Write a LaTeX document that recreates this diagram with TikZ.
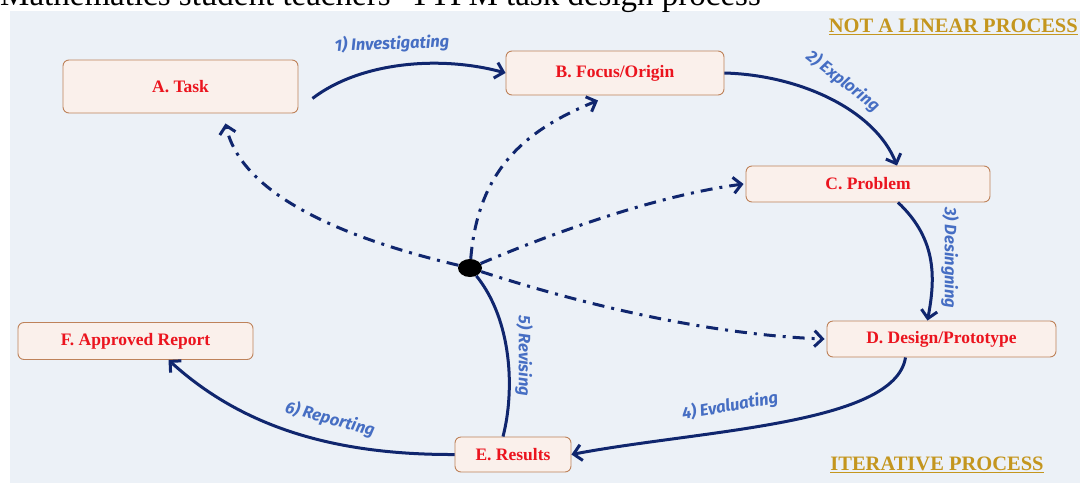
\documentclass[tikz,border=0pt]{standalone}
\usepackage{fontspec}
\setmainfont{Liberation Serif}
\newfontfamily\labfont{Fira Sans}
\usetikzlibrary{arrows.meta,shapes.geometric,calc}
\definecolor{navy}{RGB}{16,38,110}
\definecolor{boxred}{RGB}{235,20,30}
\definecolor{lblue}{RGB}{70,110,195}
\definecolor{gold}{RGB}{196,150,30}
\definecolor{bg}{RGB}{236,241,247}
\definecolor{boxfill}{RGB}{250,240,235}
\definecolor{boxline}{RGB}{190,130,90}
\tikzset{
  box/.style={draw=boxline, line width=0.9pt, fill=boxfill, rounded corners=6pt,
    font=\bfseries\fontsize{17.5}{20}\selectfont, text=boxred, inner sep=0pt},
  flow/.style={draw=navy, line width=3pt, -{Straight Barb[length=8pt,width=16pt]}},
  plain/.style={draw=navy, line width=3pt},
  dashflow/.style={draw=navy, line width=3pt, dash pattern=on 12pt off 7pt on 3pt off 7pt,
    -{Straight Barb[length=8pt,width=16pt]}},
  lab/.style={font=\labfont\bfseries\itshape\fontsize{16.5}{18}\selectfont, text=lblue, inner sep=1pt},
  goldlab/.style={font=\bfseries\fontsize{20.5}{23}\selectfont, text=gold, inner sep=0pt}
}
\begin{document}
\begin{tikzpicture}[x=1pt,y=-1pt]
\clip (0,0) rectangle (1080,483);
\fill[white] (0,0) rectangle (1080,483);
\fill[bg] (10,11) rectangle (1080,483);
\node[anchor=base west, font=\fontsize{33}{33}\selectfont, inner sep=0pt] (title) at (0,5)
  {Mathematics student teachers’ TTPM task design process};
\node[goldlab, anchor=east] (nl) at (1078,27) {\underline{NOT A LINEAR PROCESS}};
\node[goldlab] (it) at (937,465) {\underline{ITERATIVE PROCESS}};

\node[box, minimum width=235, minimum height=53] (A) at (180.5,86.5) {A. Task};
\node[box, minimum width=218, minimum height=44] (B) at (615,73) {B. Focus/Origin};
\node[box, minimum width=244, minimum height=36] (C) at (868,184) {C. Problem};
\node[box, minimum width=229, minimum height=36] (D) at (941.5,339) {D. Design/Prototype};
\node[box, minimum width=116, minimum height=35] (E) at (513,454.5) {E. Results};
\node[box, minimum width=235, minimum height=37] (F) at (135.5,341) {F. Approved Report};
\node[fill=black, ellipse, minimum width=24, minimum height=18, inner sep=0pt] (hub) at (470,268) {};

\coordinate (a1) at ($(A.south east)+(14,-15)$);
\draw[flow] (a1) .. controls (360,62) and (440,55) .. (B.west);
\draw[flow] (B.east) .. controls (800,75) and (875,110) .. ([xshift=29]C.north);
\draw[flow] ([xshift=30]C.south) .. controls (938,240) and (935,280) .. ([xshift=-14]D.north);
\draw[flow] ([xshift=-36]D.south) .. controls (895,425) and (700,430) .. (E.east);
\draw[plain] ([xshift=-10]E.north) .. controls (515,390) and (512,320) .. (hub);
\draw[flow] (E.west) .. controls (330,455) and (240,425) .. ([xshift=33]F.south);

\draw[dashflow] (hub) .. controls (330,235) and (240,190) .. ($(A.south)+(45,10)$);
\draw[dashflow] (hub) .. controls (478,170) and (525,130) .. ($(B.south)+(-17,5)$);
\draw[dashflow] (hub) .. controls (560,230) and (660,195) .. ([xshift=-2]C.west);
\draw[dashflow] (hub) .. controls (600,310) and (720,335) .. ([xshift=-2]D.west);

\node[lab, rotate=2] (l1) at (392,44) {1) Investigating};
\node[lab, rotate=-38] (l2) at (843,81) {2) Exploring};
\node[lab, rotate=-90] (l3) at (950,258) {3) Desingning};
\node[lab, rotate=10] (l4) at (730,406) {4) Evaluating};
\node[lab, rotate=-90] (l5) at (524,356) {5) Revising};
\node[lab, rotate=-15] (l6) at (330,419) {6) Reporting};
\end{tikzpicture}
\end{document}
